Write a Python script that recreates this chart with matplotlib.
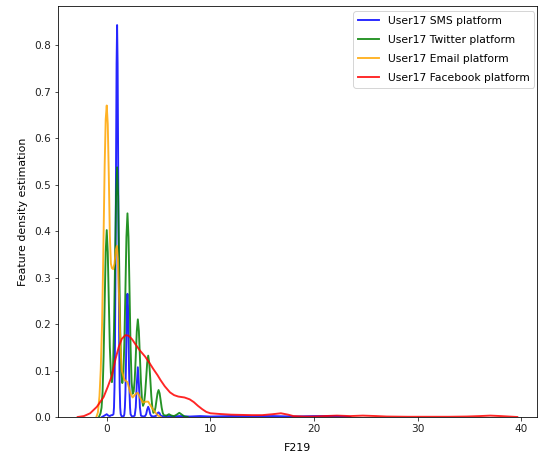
import matplotlib
matplotlib.use("Agg")
import matplotlib.pyplot as plt

# ---- data (x = F219 value, y = density) ----
sms_x = [-0.45, -0.3, -0.15, 0.0, 0.15, 0.3, 0.45, 0.55, 0.65, 0.7, 0.75, 0.8, 0.85, 0.9, 0.95,
         1.0, 1.05, 1.1, 1.15, 1.2, 1.25, 1.3, 1.35, 1.45, 1.55, 1.65, 1.7, 1.75, 1.8, 1.85,
         1.9, 1.95, 2.0, 2.05, 2.1, 2.15, 2.2, 2.25, 2.3, 2.4, 2.55, 2.7, 2.8, 2.9, 3.0, 3.1,
         3.2, 3.3, 3.5, 3.7, 3.8, 3.9, 4.0, 4.1, 4.2, 4.3, 4.55, 4.8, 4.9, 5.0, 5.1, 5.2, 5.5,
         6.0, 6.5, 7.0, 8.0, 9.0, 10.0, 12.0, 14.0, 16.0, 18.0, 20.0, 22.0, 23.5]
sms_y = [0.0, 0.002, 0.004, 0.006, 0.003, 0.002, 0.004, 0.004, 0.006, 0.02, 0.064, 0.162, 0.333, 0.558, 0.76,
         0.843, 0.76, 0.558, 0.333, 0.162, 0.064, 0.02, 0.006, 0.001, 0.001, 0.002, 0.006, 0.02, 0.051, 0.105,
         0.175, 0.239, 0.265, 0.239, 0.175, 0.105, 0.051, 0.02, 0.006, 0.002, 0.001, 0.003, 0.021, 0.071, 0.107, 0.071,
         0.021, 0.003, 0.001, 0.002, 0.006, 0.016, 0.022, 0.016, 0.006, 0.002, 0.001, 0.003, 0.008, 0.01, 0.008, 0.003, 0.001,
         0.002, 0.001, 0.002, 0.001, 0.002, 0.001, 0.002, 0.001, 0.002, 0.001, 0.002, 0.002, 0.0]

twitter_x = [-0.75, -0.6, -0.5, -0.4, -0.3, -0.2, -0.1, 0.0, 0.1, 0.2, 0.3, 0.4, 0.5,
             0.6, 0.7, 0.8, 0.9, 1.0, 1.1, 1.2, 1.3, 1.4, 1.5,
             1.6, 1.7, 1.8, 1.9, 2.0, 2.1, 2.2, 2.3, 2.4, 2.5,
             2.6, 2.7, 2.8, 2.9, 3.0, 3.1, 3.2, 3.3, 3.4, 3.5,
             3.6, 3.7, 3.8, 3.9, 4.0, 4.1, 4.2, 4.3, 4.4, 4.5,
             4.6, 4.7, 4.8, 4.9, 5.0, 5.1, 5.2, 5.3, 5.4, 5.5,
             5.75, 6.0, 6.25, 6.5, 6.75, 7.0, 7.25, 7.5, 7.8]
twitter_y = [0.0, 0.008, 0.02, 0.054, 0.131, 0.244, 0.355, 0.402, 0.355, 0.25, 0.15, 0.095, 0.075,
             0.1, 0.19, 0.33, 0.475, 0.537, 0.475, 0.33, 0.19, 0.1, 0.073,
             0.09, 0.16, 0.27, 0.387, 0.438, 0.387, 0.27, 0.15, 0.075, 0.05,
             0.055, 0.08, 0.13, 0.185, 0.21, 0.185, 0.13, 0.075, 0.038, 0.024,
             0.03, 0.05, 0.082, 0.116, 0.132, 0.116, 0.082, 0.045, 0.02, 0.009,
             0.011, 0.02, 0.036, 0.051, 0.058, 0.051, 0.036, 0.02, 0.009, 0.004,
             0.003, 0.006, 0.003, 0.002, 0.005, 0.009, 0.005, 0.001, 0.0]

email_x = [-1.0, -0.85, -0.7, -0.58, -0.45, -0.34, -0.2, -0.1, 0.0, 0.1, 0.2, 0.3, 0.4, 0.5,
           0.62, 0.75, 0.88, 0.98, 1.08, 1.2, 1.32, 1.45, 1.7, 2.0, 2.3, 2.5, 2.8, 3.0, 3.25,
           3.5, 3.8, 4.0, 4.3, 4.6, 4.9, 5.2]
email_y = [0.0, 0.01, 0.045, 0.1, 0.2, 0.338, 0.54, 0.64, 0.67, 0.63, 0.52, 0.39, 0.33, 0.32,
           0.318, 0.33, 0.36, 0.368, 0.34, 0.25, 0.15, 0.1, 0.08, 0.075, 0.05, 0.042, 0.05, 0.052, 0.04,
           0.031, 0.033, 0.033, 0.022, 0.012, 0.004, 0.0]

facebook_x = [-2.8, -2.2, -1.6, -0.95, -0.3, 0.1, 0.5, 0.85, 1.15, 1.45, 1.8, 2.1, 2.45, 2.75,
              3.2, 3.7, 4.1, 4.5, 4.9, 5.2, 5.6, 6.1, 6.5, 6.9, 7.5, 8.0, 8.4, 8.8, 9.2, 9.6,
              10.0, 10.9, 12.0, 13.0, 14.0, 15.0, 16.0, 16.8, 17.5, 18.0, 19.0, 20.0, 21.0,
              22.2, 23.5, 24.7, 26.0, 27.0, 29.0, 31.0, 33.0, 34.7, 36.0, 37.0, 38.0, 39.6]
facebook_y = [0.0, 0.002, 0.008, 0.022, 0.043, 0.065, 0.089, 0.125, 0.15, 0.168, 0.176, 0.175, 0.167, 0.157,
              0.143, 0.13, 0.117, 0.103, 0.09, 0.079, 0.066, 0.053, 0.047, 0.044, 0.042, 0.038, 0.032, 0.024, 0.017, 0.011,
              0.008, 0.0065, 0.005, 0.0045, 0.004, 0.004, 0.006, 0.008, 0.005, 0.002, 0.001, 0.001, 0.002,
              0.003, 0.002, 0.003, 0.002, 0.001, 0.0005, 0.0005, 0.0005, 0.001, 0.002, 0.003, 0.002, 0.0]

labels = ["User17 SMS platform", "User17 Twitter platform",
          "User17 Email platform", "User17 Facebook platform"]
colors = ["blue", "green", "orange", "red"]
x_ticks = [0, 10, 20, 30, 40]
y_ticks = [0.0, 0.1, 0.2, 0.3, 0.4, 0.5, 0.6, 0.7, 0.8]

plt.rcParams['font.family'] = ['DejaVu Sans']
plt.rcParams['font.size'] = 10

fig = plt.figure(figsize=(538 / 72, 456 / 72), dpi=72)
ax = fig.add_axes([58 / 538, 1 - 417 / 456, (537 - 58) / 538, (417 - 6) / 456])

series = [(sms_x, sms_y), (twitter_x, twitter_y), (email_x, email_y), (facebook_x, facebook_y)]
for (xs, ys), lab, col in zip(series, labels, colors):
    ax.plot(xs, ys, color=col, lw=1.9, label=lab, alpha=0.85)

ax.set_xlim(-4.7, 41.5)
ax.set_ylim(0, 0.884)
ax.set_xticks(x_ticks)
ax.set_yticks(y_ticks)
ax.set_yticklabels([f"{v:.1f}" for v in y_ticks])
ax.tick_params(labelsize=10.5, colors="#222222")
ax.set_xlabel("F219", fontsize=11, labelpad=9)
ax.set_ylabel("Feature density estimation", fontsize=11, labelpad=6)
ax.legend(loc="upper right", bbox_to_anchor=(1.005, 1.0), fontsize=10.8,
          labelspacing=0.85, borderaxespad=0.5)

fig.savefig("out.png", dpi=72)
